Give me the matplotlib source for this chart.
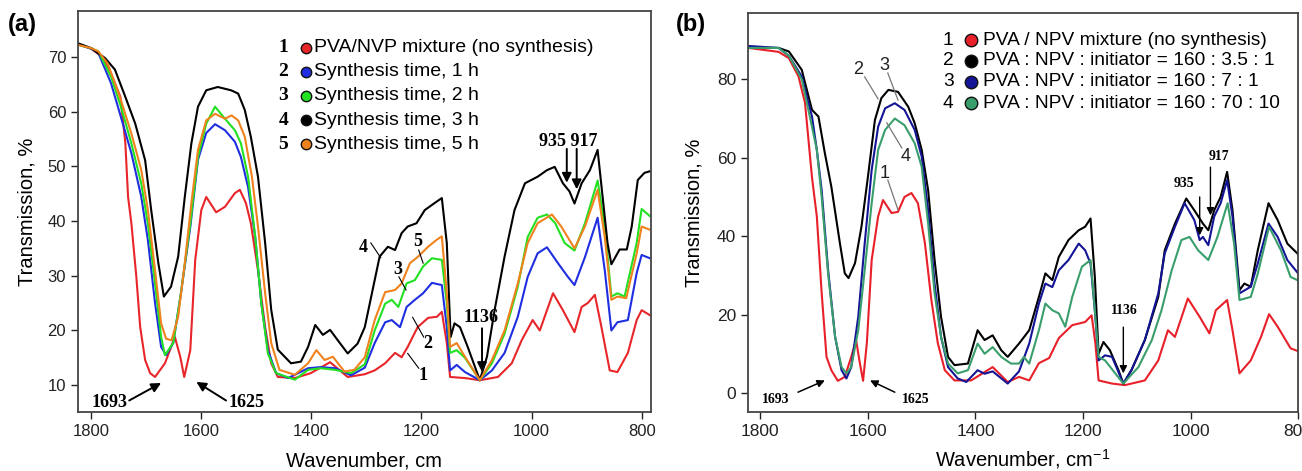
import matplotlib
matplotlib.use("Agg")
import matplotlib.pyplot as plt

plt.rcParams['font.family'] = ['Liberation Sans', 'DejaVu Sans']
plt.rcParams['mathtext.default'] = 'regular'

# ---- panel (a): synthesis time series, (wavenumber, transmission %) ----
a_red = [(1824, 72.3), (1800, 71.5), (1780, 70.0), (1764, 67), (1747, 62.7), (1738, 54.3), (1733, 44.4),
         (1727, 39.6), (1718, 29.8), (1711, 20.6), (1702, 14.6), (1693, 12.2), (1684, 11.5), (1666, 14),
         (1648, 18.8), (1638, 15.1), (1631, 11.5), (1620, 16.4), (1611, 32.9), (1600, 42), (1591, 44.4),
         (1573, 41.6), (1557, 42.6), (1539, 45.1), (1530, 45.7), (1519, 43.3), (1510, 39.6), (1497, 31),
         (1484, 20.6), (1473, 14), (1461, 11.5), (1430, 11.3), (1401, 12.2), (1366, 14.2), (1334, 11.5),
         (1303, 12), (1285, 12.7), (1266, 14), (1248, 15.9), (1236, 15.1), (1225, 17), (1207, 20.6),
         (1188, 22.3), (1172, 22.5), (1163, 23.4), (1154, 17.7), (1148, 11.5), (1121, 11.3), (1094, 10.9),
         (1061, 11.5), (1036, 14), (1018, 18.2), (998, 21.9), (985, 20), (972, 23.7), (961, 26.8),
         (943, 23.7), (922, 19.7), (909, 24.3), (898, 25), (885, 26.5), (873, 20.6), (858, 12.7),
         (844, 12.4), (825, 15.9), (809, 21.9), (800, 23.7), (785, 22.8)]
a_blue = [(1824, 72.3), (1800, 71.5), (1787, 70.7), (1764, 65.2), (1746, 59), (1727, 52.4), (1709, 44.4),
          (1697, 36.5), (1684, 25), (1673, 17), (1664, 15.5), (1651, 17.7), (1637, 26.8), (1620, 38.9),
          (1606, 51.2), (1591, 56.1), (1575, 57.7), (1557, 56.6), (1539, 54.5), (1528, 51.7), (1515, 46.2),
          (1502, 37.1), (1491, 25), (1479, 16.4), (1464, 12.2), (1442, 11.3), (1406, 13.1), (1383, 13.3),
          (1357, 13.1), (1328, 11.8), (1303, 13.2), (1285, 17.7), (1266, 21.5), (1254, 21.9), (1239, 20.6),
          (1227, 24.3), (1212, 25.6), (1197, 26.8), (1181, 28.7), (1163, 28.3), (1154, 20.6), (1148, 12.7),
          (1136, 13.7), (1121, 12.4), (1094, 10.9), (1072, 12.7), (1049, 15.9), (1025, 22.5), (1007, 29.8),
          (989, 34.1), (972, 35.2), (952, 32.3), (934, 29.8), (922, 28.3), (903, 33.4), (880, 40.6),
          (867, 31), (855, 20), (844, 21.5), (825, 21.9), (809, 30.5), (800, 33.8), (785, 33.2)]
a_green = [(1824, 72.2), (1800, 71.6), (1787, 71), (1764, 66.4), (1746, 60.9), (1727, 54.2), (1709, 46.8),
           (1697, 39.5), (1684, 28.6), (1673, 18.8), (1666, 15.5), (1651, 17.7), (1637, 26.8), (1620, 39.5),
           (1606, 51.7), (1591, 57.8), (1575, 60.9), (1557, 58.7), (1539, 56.6), (1528, 54.2), (1515, 48.1),
           (1502, 37.1), (1491, 25), (1479, 15.8), (1464, 12.2), (1430, 11), (1406, 12.8), (1383, 13.1),
           (1357, 12.8), (1328, 12.2), (1303, 13.8), (1285, 20), (1266, 24.9), (1254, 25.6), (1242, 24.3),
           (1227, 28.6), (1212, 29.2), (1197, 31.7), (1181, 33.2), (1163, 32.9), (1154, 25), (1148, 15.9),
           (1136, 16.4), (1121, 15), (1094, 10.9), (1072, 14), (1049, 19.4), (1025, 28), (1007, 37.1),
           (989, 40.6), (972, 41.2), (957, 39.6), (940, 36), (922, 34.6), (903, 39.6), (880, 47.4),
           (867, 39), (855, 26.2), (844, 26.8), (831, 26.2), (809, 36), (800, 42.2), (785, 40.9)]
a_black = [(1824, 72.5), (1800, 71.6), (1775, 69.8), (1757, 67.7), (1738, 62.7), (1720, 57.8), (1702, 51.1),
           (1691, 42), (1678, 32.3), (1668, 26.2), (1655, 28), (1642, 33.5), (1630, 44.4), (1618, 54.2),
           (1606, 60.9), (1591, 63.9), (1570, 64.5), (1546, 63.9), (1533, 63.3), (1521, 60.3), (1510, 55.4),
           (1497, 48.1), (1484, 36), (1473, 23.8), (1461, 16.5), (1437, 14), (1419, 14.3), (1406, 17),
           (1393, 21), (1379, 19.2), (1366, 20.1), (1352, 18.2), (1334, 15.8), (1316, 17.6), (1303, 20.6),
           (1290, 26.8), (1276, 33.5), (1261, 35.3), (1248, 34.7), (1236, 37.8), (1225, 39), (1209, 39.6),
           (1194, 42), (1176, 43.3), (1163, 44.2), (1154, 36), (1147, 18.8), (1140, 21.3), (1130, 20.6),
           (1116, 17), (1094, 10.9), (1081, 15.2), (1067, 23.8), (1049, 33.5), (1031, 42), (1012, 46.9),
           (989, 48.1), (972, 49.3), (958, 49.9), (943, 46.9), (931, 45.4), (922, 43.2), (909, 46.9),
           (894, 49.3), (880, 53), (871, 44.5), (862, 36), (855, 32.1), (840, 34.8), (827, 34.8),
           (818, 39), (807, 47.5), (795, 48.8), (785, 49.1)]
a_orange = [(1824, 72.2), (1800, 71.6), (1787, 71), (1770, 68.8), (1746, 62.1), (1727, 56), (1709, 49.3),
            (1697, 42), (1684, 31), (1673, 21.3), (1664, 18.5), (1654, 18.2), (1642, 22.5), (1630, 32.3),
            (1618, 43.3), (1606, 53), (1591, 58.4), (1575, 59.6), (1557, 58.7), (1545, 59.3), (1533, 58.4),
            (1521, 55.4), (1508, 48.1), (1497, 39), (1484, 26.8), (1473, 17.7), (1458, 12.8), (1430, 11.9),
            (1406, 14), (1391, 16.4), (1376, 14.6), (1361, 15.2), (1340, 12.5), (1322, 12.8), (1303, 15.1),
            (1285, 21.9), (1266, 27), (1248, 27.4), (1236, 28.6), (1221, 32.3), (1206, 33.5), (1188, 35.3),
            (1172, 36.6), (1163, 37.2), (1154, 26.8), (1148, 17), (1136, 17.7), (1121, 15.2), (1094, 10.9),
            (1072, 14.6), (1049, 20), (1025, 28.6), (1007, 36), (989, 39.6), (963, 41.2), (946, 39),
            (922, 35), (903, 39), (880, 45.7), (867, 37.1), (855, 25.6), (844, 26.2), (828, 25.9),
            (809, 34.1), (800, 39), (785, 38.4)]

a_series = [a_red, a_blue, a_green, a_black, a_orange]
a_colors = ['#e8262a', '#1f2fe0', '#22e022', '#000000', '#f0821e']
a_labels = ['PVA/NVP mixture (no synthesis)', 'Synthesis time, 1 h', 'Synthesis time, 2 h',
            'Synthesis time, 3 h', 'Synthesis time, 5 h']
a_nums = ['1', '2', '3', '4', '5']

# ---- panel (b): component ratio series ----
b_red = [(1822, 88), (1766, 87), (1747, 85.4), (1729, 80.7), (1717, 74), (1704, 55), (1695, 45),
         (1686, 25.5), (1677, 9.2), (1668, 5.8), (1656, 3.1), (1643, 4.1), (1631, 9.2), (1622, 13.5),
         (1615, 7.6), (1609, 3.1), (1602, 12.7), (1593, 33.9), (1581, 45), (1572, 49.2), (1556, 45.9),
         (1544, 46.2), (1532, 50), (1519, 51), (1507, 48.4), (1494, 38.2), (1482, 23.7), (1470, 12.7),
         (1457, 5.8), (1439, 3.2), (1408, 3.2), (1368, 6.6), (1340, 2.8), (1319, 4.1), (1300, 3.2),
         (1282, 7.6), (1263, 8.9), (1245, 14), (1220, 17.3), (1196, 18.1), (1184, 19.8), (1177, 12.7),
         (1171, 3.2), (1146, 2.4), (1122, 2.0), (1085, 3.2), (1060, 8.3), (1042, 16), (1029, 14.3),
         (1005, 24.1), (983, 19.4), (965, 15.2), (953, 21.1), (932, 23.7), (922, 16), (909, 5),
         (888, 8.3), (869, 14.3), (854, 20.1), (838, 16.9), (814, 11.4), (797, 10.5)]
b_black = [(1822, 88), (1766, 88), (1747, 87.1), (1723, 82.4), (1704, 72.2), (1692, 70.5), (1680, 61.1),
           (1668, 52.6), (1652, 38.1), (1643, 30.5), (1636, 29.3), (1624, 33.1), (1612, 42.4), (1600, 55.1),
           (1587, 69.6), (1575, 75.2), (1562, 77.3), (1544, 76.8), (1525, 73), (1513, 68.8), (1500, 62),
           (1488, 51.7), (1476, 33.9), (1464, 19.4), (1451, 9.2), (1439, 7.1), (1414, 7.5), (1396, 16),
           (1383, 13.5), (1368, 14.7), (1352, 10.9), (1340, 9.2), (1319, 12.6), (1300, 16), (1282, 24.5),
           (1270, 30.5), (1257, 28.8), (1245, 34.7), (1227, 39), (1208, 41.5), (1196, 42.4), (1186, 44.5),
           (1178, 29.6), (1171, 10), (1162, 13), (1150, 10.9), (1134, 5.8), (1125, 2.4), (1110, 5.8),
           (1085, 13.5), (1060, 24.5), (1048, 36.4), (1029, 43.2), (1008, 49.6), (993, 46.6), (977, 43.2),
           (967, 41.5), (956, 46.6), (944, 50), (932, 56.4), (922, 46.6), (909, 26.2), (900, 27.9),
           (888, 27.1), (875, 36.4), (855, 48.4), (838, 44.1), (820, 38.1), (797, 35)]
b_blue = [(1822, 88.5), (1766, 88), (1747, 86), (1723, 80.7), (1704, 70.5), (1695, 62), (1686, 51.7),
          (1674, 31.3), (1661, 14.3), (1649, 5.8), (1640, 3.7), (1631, 6.6), (1618, 19.4), (1606, 38.1),
          (1593, 56.9), (1581, 67.9), (1568, 72.6), (1550, 73.9), (1532, 72.2), (1513, 67.1), (1500, 60.3),
          (1488, 46.6), (1476, 27.9), (1464, 14.3), (1451, 6.6), (1433, 3.7), (1417, 2.8), (1396, 5.8),
          (1383, 4.9), (1368, 5.5), (1340, 2.4), (1319, 5.5), (1300, 12.6), (1282, 22.8), (1270, 27.9),
          (1257, 27), (1245, 31.3), (1227, 33.9), (1208, 38.1), (1196, 36.4), (1186, 33), (1178, 21.1),
          (1171, 8.3), (1159, 9.6), (1146, 9.2), (1125, 2.4), (1110, 5.8), (1085, 13.5), (1060, 25.4),
          (1048, 35.6), (1029, 42.4), (1011, 48.4), (993, 44.1), (983, 39), (977, 39.8), (967, 37.7),
          (956, 45), (944, 48.4), (932, 54.3), (922, 45), (909, 25.4), (888, 27.1), (875, 33),
          (855, 43.2), (838, 39.8), (820, 33.9), (797, 30)]
b_green = [(1822, 88), (1766, 88), (1747, 86), (1723, 80), (1704, 67.9), (1695, 62), (1686, 50),
           (1674, 30.4), (1661, 14.3), (1649, 6.6), (1640, 5), (1631, 6.6), (1618, 16), (1606, 31.3),
           (1593, 48.4), (1581, 62), (1568, 67.1), (1550, 70), (1532, 68.3), (1513, 63.7), (1500, 57.7),
           (1488, 43.2), (1476, 25.4), (1464, 14.3), (1451, 7.5), (1433, 5), (1414, 5.8), (1396, 12.6),
           (1383, 10), (1368, 11.7), (1352, 9.2), (1334, 7.5), (1319, 7.5), (1310, 9.2), (1300, 7.5),
           (1282, 16), (1270, 22.8), (1257, 21.1), (1245, 20.3), (1233, 16.9), (1220, 24.5), (1202, 32.2),
           (1186, 33.9), (1178, 21.1), (1171, 9.2), (1159, 8.3), (1140, 5), (1125, 2.4), (1097, 6.6),
           (1072, 13.5), (1054, 21.1), (1035, 31.3), (1017, 39), (1002, 39.8), (986, 36.4), (967, 33.9),
           (950, 39.8), (931, 48.4), (919, 38.1), (909, 23.7), (888, 24.5), (875, 30.4), (854, 42.4),
           (832, 36.4), (814, 29.6), (797, 28.5)]

b_series = [b_red, b_black, b_blue, b_green]
b_colors = ['#e8202a', '#000000', '#141496', '#3a9e6c']
b_labels = ['PVA / NPV mixture (no synthesis)', 'PVA : NPV : initiator = 160 : 3.5 : 1',
            'PVA : NPV : initiator = 160 : 7 : 1', 'PVA : NPV : initiator = 160 : 70 : 10']
b_nums = ['1', '2', '3', '4']

SERIF_B = dict(family='Liberation Serif', fontweight='bold')


def style_axes(ax, fs):
    for s in ax.spines.values():
        s.set_color('#444444')
        s.set_linewidth(1.3)
    ax.tick_params(direction='out', length=5, width=1, labelsize=fs, colors='#222222')
    ax.set_xticks([1800, 1600, 1400, 1200, 1000, 800])


def draw_legend(ax, nums, colors, labels, ys, xn, xm, xt, ms, numkw, fs):
    for n, c, t, y in zip(nums, colors, labels, ys):
        ax.text(xn, y, n, transform=ax.transAxes, ha='center', va='center', fontsize=fs, **numkw)
        ax.plot([xm], [y], 'o', transform=ax.transAxes, ms=ms, mfc=c, mec='#111111', mew=1,
                clip_on=False)
        ax.text(xt, y, t, transform=ax.transAxes, ha='left', va='center', fontsize=fs)


def arrow(ax, tail, tip, lw=1.4, ms=14):
    ax.annotate('', xy=tip, xytext=tail,
                arrowprops=dict(arrowstyle='-|>', color='black', lw=lw, mutation_scale=ms,
                                shrinkA=0, shrinkB=0))


fig = plt.figure(figsize=(13.02, 4.71), dpi=100)

# ================= panel (a) =================
ax = fig.add_axes([0.0599, 0.1253, 0.4401, 0.8503])
for pts, c in zip(a_series, a_colors):
    ws, ts = zip(*pts)
    ax.plot(ws, ts, color=c, lw=1.5)
ax.set_xlim(1824, 783)
ax.set_ylim(5.1, 78.3)
ax.set_yticks([10, 20, 30, 40, 50, 60, 70])
style_axes(ax, 12)
ax.set_ylabel('Transmission, %', fontsize=14.5, labelpad=8)
ax.set_xlabel('Wavenumber, cm', fontsize=14.5, labelpad=9)

draw_legend(ax, a_nums, a_colors, a_labels, [0.909, 0.849, 0.789, 0.729, 0.669],
            0.358, 0.398, 0.412, 7.5, SERIF_B, 14)

ax.text(1767, 6.8, '1693', ha='center', va='center', fontsize=13, **SERIF_B)
arrow(ax, (1731, 7.2), (1673, 10.4))
ax.text(1517, 6.8, '1625', ha='center', va='center', fontsize=13, **SERIF_B)
arrow(ax, (1555, 7.2), (1609, 10.6))
ax.text(1092, 22.3, '1136', ha='center', va='center', fontsize=13, **SERIF_B)
arrow(ax, (1090, 20.4), (1090, 12.4))
ax.text(934, 54.5, '935 917', ha='center', va='center', fontsize=13, **SERIF_B)
arrow(ax, (936, 53.2), (936, 47))
arrow(ax, (918, 53.2), (918, 45.8))

a_curve_tags = [('4', (1306, 35.2), (1292, 36), (1274, 33.3)),
                ('5', (1207, 36.3), (1205, 34.7), (1197, 32.3)),
                ('3', (1243, 31.2), (1241, 29.8), (1228, 27.4)),
                ('2', (1188, 17.6), (1196, 18.8), (1216, 22.4)),
                ('1', (1197, 11.8), (1205, 13.1), (1225, 15.8))]
for tag, pos, p1, p2 in a_curve_tags:
    ax.text(pos[0], pos[1], tag, ha='center', va='center', fontsize=13, **SERIF_B)
    ax.plot([p1[0], p2[0]], [p1[1], p2[1]], color='black', lw=0.8)

fig.text(8 / 1302, 1 - 25 / 471, '(a)', fontsize=17, fontweight='bold', va='center', ha='left')

# ================= panel (b) =================
bx = fig.add_axes([0.5745, 0.1253, 0.4225, 0.847])
for pts, c in zip(b_series, b_colors):
    ws, ts = zip(*pts)
    bx.plot(ws, ts, color=c, lw=1.5)
bx.set_xlim(1823, 800)
bx.set_ylim(-4.85, 96.9)
bx.set_yticks([0, 20, 40, 60, 80])
style_axes(bx, 12.5)
bx.set_ylabel('Transmission, %', fontsize=14.5, labelpad=10)
bx.set_xlabel('Wavenumber, cm$^{-1}$', fontsize=14.5, labelpad=6)

draw_legend(bx, b_nums, b_colors, b_labels, [0.932, 0.881, 0.828, 0.774],
            0.364, 0.406, 0.428, 9, {}, 13.8)

bx.text(1772, -1.6, '1693', ha='center', va='center', fontsize=10, **SERIF_B)
arrow(bx, (1730, 0.2), (1680, 3.2), lw=1.1, ms=11)
bx.text(1511, -1.6, '1625', ha='center', va='center', fontsize=10, **SERIF_B)
arrow(bx, (1550, 0.2), (1596, 3.2), lw=1.1, ms=11)
bx.text(1124, 21.1, '1136', ha='center', va='center', fontsize=10, **SERIF_B)
arrow(bx, (1125, 16.8), (1125, 5), lw=1.0, ms=11)
bx.text(1013, 53.5, '935', ha='center', va='center', fontsize=10, **SERIF_B)
arrow(bx, (983, 50), (983, 40.2), lw=1.0, ms=11)
bx.text(948, 60.2, '917', ha='center', va='center', fontsize=10, **SERIF_B)
arrow(bx, (963, 57.6), (963, 45.3), lw=1.0, ms=11)

b_curve_tags = [('2', (1619, 82.4), (1606, 80.6), (1581, 75)),
                ('3', (1569, 83.6), (1563, 81.6), (1544, 74.7)),
                ('4', (1530, 60.2), (1537, 62.5), (1565, 68.9)),
                ('1', (1569, 56.0), (1563, 54.3), (1544, 46.7))]
for tag, pos, p1, p2 in b_curve_tags:
    bx.text(pos[0], pos[1], tag, ha='center', va='center', fontsize=13, color='#222222')
    bx.plot([p1[0], p2[0]], [p1[1], p2[1]], color='#777777', lw=0.9)

fig.text(676 / 1302, 1 - 25 / 471, '(b)', fontsize=17, fontweight='bold', va='center', ha='left')

fig.savefig('out.png', dpi=100)
